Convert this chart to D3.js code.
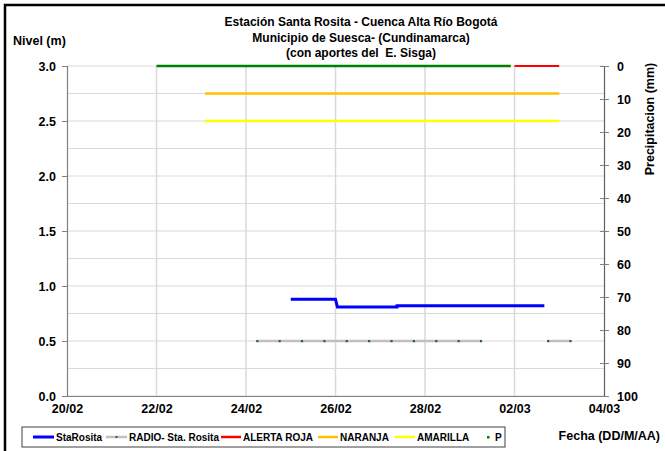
<!DOCTYPE html>
<html><head><meta charset="utf-8">
<script src="https://cdn.jsdelivr.net/npm/d3@7"></script>
<style>
body{margin:0;background:#fff;}
text{font-family:"Liberation Sans",Arial,sans-serif;font-weight:bold;fill:#000;}
</style></head>
<body><svg id="c" width="665" height="451"></svg>
<script>
// ---- data ----
const titleLines = ["Estación Santa Rosita - Cuenca Alta Río Bogotá", "Municipio de Suesca- (Cundinamarca)", "(con aportes del\u00a0 E. Sisga)"];
const xTickDates = ["2025-02-20","2025-02-22","2025-02-24","2025-02-26","2025-02-28","2025-03-02","2025-03-04"];
const xTickLabels = ["20/02","22/02","24/02","26/02","28/02","02/03","04/03"];
const yLeftTicks = [0,0.5,1,1.5,2,2.5,3];
const yRightTicks = [0,10,20,30,40,50,60,70,80,90,100];

const staRositaDates = ["2025-02-25T00:00","2025-02-26T00:00","2025-02-26T01:00","2025-02-27T09:00","2025-02-27T09:00","2025-03-02T16:00"];
const staRositaValues = [0.88,0.88,0.81,0.81,0.82,0.82];

const radioDates1 = ["2025-02-24T06:00","2025-02-24T18:00","2025-02-25T06:00","2025-02-25T18:00","2025-02-26T06:00","2025-02-26T18:00","2025-02-27T06:00","2025-02-27T18:00","2025-02-28T06:00","2025-02-28T18:00","2025-03-01T06:00"];
const radioValues1 = [0.5,0.5,0.5,0.5,0.5,0.5,0.5,0.5,0.5,0.5,0.5];
const radioDates2 = ["2025-03-02T18:00","2025-03-03T06:00"];
const radioValues2 = [0.5,0.5];

const alertaRojaDates = ["2025-03-02T00:00","2025-03-03T00:00"];
const alertaRojaValues = [3.0,3.0];
const naranjaDates = ["2025-02-23T02:00","2025-03-03T00:00"];
const naranjaValues = [2.75,2.75];
const amarillaDates = ["2025-02-23T02:00","2025-03-03T00:00"];
const amarillaValues = [2.5,2.5];

const pDates = ["2025-02-22T00:00","2025-02-23T00:00","2025-02-24T00:00","2025-02-25T00:00","2025-02-26T00:00","2025-02-27T00:00","2025-02-28T00:00","2025-03-01T00:00","2025-03-01T22:00"];
const pValues = [0,0,0,0,0,0,0,0,0];

const legendNames = ["StaRosita","RADIO- Sta. Rosita","ALERTA ROJA","NARANJA","AMARILLA","P"];
const legendColors = ["#0000FF","#C0C0C0","#FF0000","#FFC000","#FFFF00","#008000"];

// ---- chart ----
const svg = d3.select("#c");
const parse = d3.utcParse("%Y-%m-%dT%H:%M");
const parseD = d3.utcParse("%Y-%m-%d");
const L = 67, R = 604, T = 66, B = 396;
const x = d3.scaleUtc().domain([parseD(xTickDates[0]), parseD(xTickDates[xTickDates.length-1])]).range([L, R]);
const y = d3.scaleLinear().domain([0,3]).range([B, T]);
const y2 = d3.scaleLinear().domain([0,100]).range([T, B]);

// outer border
svg.append("rect").attr("x",5).attr("y",5).attr("width",700).attr("height",500)
  .attr("fill","none").attr("stroke","#000").attr("stroke-width",2.5);

// gridlines
const hGrid = d3.range(0, 3.01, 0.25);
svg.append("g").selectAll("line").data(hGrid).join("line")
  .attr("x1",L).attr("x2",R).attr("y1",d=>y(d)).attr("y2",d=>y(d))
  .attr("stroke","#d9d9d9").attr("stroke-width",1);
svg.append("g").selectAll("line").data(xTickDates.slice(1,-1)).join("line")
  .attr("x1",d=>x(parseD(d))).attr("x2",d=>x(parseD(d))).attr("y1",T).attr("y2",B)
  .attr("stroke","#d9d9d9").attr("stroke-width",1.5);

// axes
const axL = svg.append("g").attr("transform",`translate(${L},0)`)
  .call(d3.axisLeft(y).tickValues(yLeftTicks).tickFormat(d3.format(".1f")).tickSize(5).tickPadding(6));
const axR = svg.append("g").attr("transform",`translate(${R},0)`)
  .call(d3.axisRight(y2).tickValues(yRightTicks).tickSize(5).tickPadding(8));
axR.selectAll(".tick line").attr("x1",-4);
const axB = svg.append("g").attr("transform",`translate(0,${B})`)
  .call(d3.axisBottom(x).tickValues(xTickDates.map(parseD)).tickFormat((d,i)=>xTickLabels[i]).tickSize(0).tickPadding(8));
[axL,axR,axB].forEach(a=>{
  a.select(".domain").attr("stroke","#808080").attr("stroke-width",1.2);
  a.selectAll(".tick line").attr("stroke","#808080");
  a.selectAll("text").style("font-family","'Liberation Sans',Arial,sans-serif").style("font-weight","bold").style("font-size","12.5px").attr("fill","#000");
});
axR.select(".domain").attr("stroke","#606060");

const line = d3.line().x(d=>x(d[0])).y(d=>y(d[1]));
const zipP = (ds,vs)=>ds.map((d,i)=>[parse(d),vs[i]]);

// precipitation
const pLine = d3.line().x(d=>x(d[0])).y(d=>y2(d[1]));
const pData = zipP(pDates,pValues);
svg.append("path").attr("d",pLine(pData)).attr("fill","none").attr("stroke","#008000").attr("stroke-width",2.5);

// thresholds
svg.append("path").attr("d",line(zipP(alertaRojaDates,alertaRojaValues))).attr("fill","none").attr("stroke","#FF0000").attr("stroke-width",2);
svg.append("path").attr("d",line(zipP(naranjaDates,naranjaValues))).attr("fill","none").attr("stroke","#FFC000").attr("stroke-width",2.5);
svg.append("path").attr("d",line(zipP(amarillaDates,amarillaValues))).attr("fill","none").attr("stroke","#FFFF00").attr("stroke-width",2.5);

// radio
[[radioDates1,radioValues1],[radioDates2,radioValues2]].forEach(([ds,vs])=>{
  const dd = zipP(ds,vs);
  svg.append("path").attr("d",line(dd)).attr("fill","none").attr("stroke","#C0C0C0").attr("stroke-width",2.5);
  svg.append("g").selectAll("rect").data(dd).join("rect")
    .attr("x",d=>x(d[0])-1).attr("y",d=>y(d[1])-1).attr("width",2.2).attr("height",2.2).attr("fill","#1a6b3a");
});

// StaRosita
svg.append("path").attr("d",line(zipP(staRositaDates,staRositaValues))).attr("fill","none").attr("stroke","#0000FF").attr("stroke-width",3);

// titles
const tt = svg.append("text").attr("text-anchor","middle").style("font-size","12px");
titleLines.forEach((t,i)=>tt.append("tspan").attr("x",361).attr("y",26+i*15.5).text(t));
svg.append("text").attr("x",13).attr("y",45).style("font-size","12.5px").text("Nivel (m)");
svg.append("text").attr("transform","translate(654,119) rotate(-90)").attr("text-anchor","middle").style("font-size","12.5px").text("Precipitacion (mm)");
svg.append("text").attr("x",660).attr("y",440).attr("text-anchor","end").style("font-size","12.5px").text("Fecha (DD/M/AA)");

// legend
const lg = svg.append("g");
lg.append("rect").attr("x",22).attr("y",427).attr("width",483).attr("height",20).attr("fill","#fff").attr("stroke","#404040").attr("stroke-width",1);
const lx = [33,106,221,318,395,487];
const lw = [21,21,20,20,20,0];
legendNames.forEach((n,i)=>{
  if(i<5){
    lg.append("line").attr("x1",lx[i]).attr("x2",lx[i]+lw[i]).attr("y1",437).attr("y2",437).attr("stroke",legendColors[i]).attr("stroke-width",i===0?3:2.5);
    if(i===1) lg.append("rect").attr("x",lx[i]+9.5).attr("y",436).attr("width",2).attr("height",2).attr("fill","#1a6b3a");
  } else {
    lg.append("rect").attr("x",lx[i]).attr("y",436).attr("width",2.5).attr("height",2.5).attr("fill",legendColors[i]);
  }
  lg.append("text").attr("x",lx[i]+lw[i]+(i===5?8:2)).attr("y",441).style("font-size","10px").text(n);
});
</script></body></html>
